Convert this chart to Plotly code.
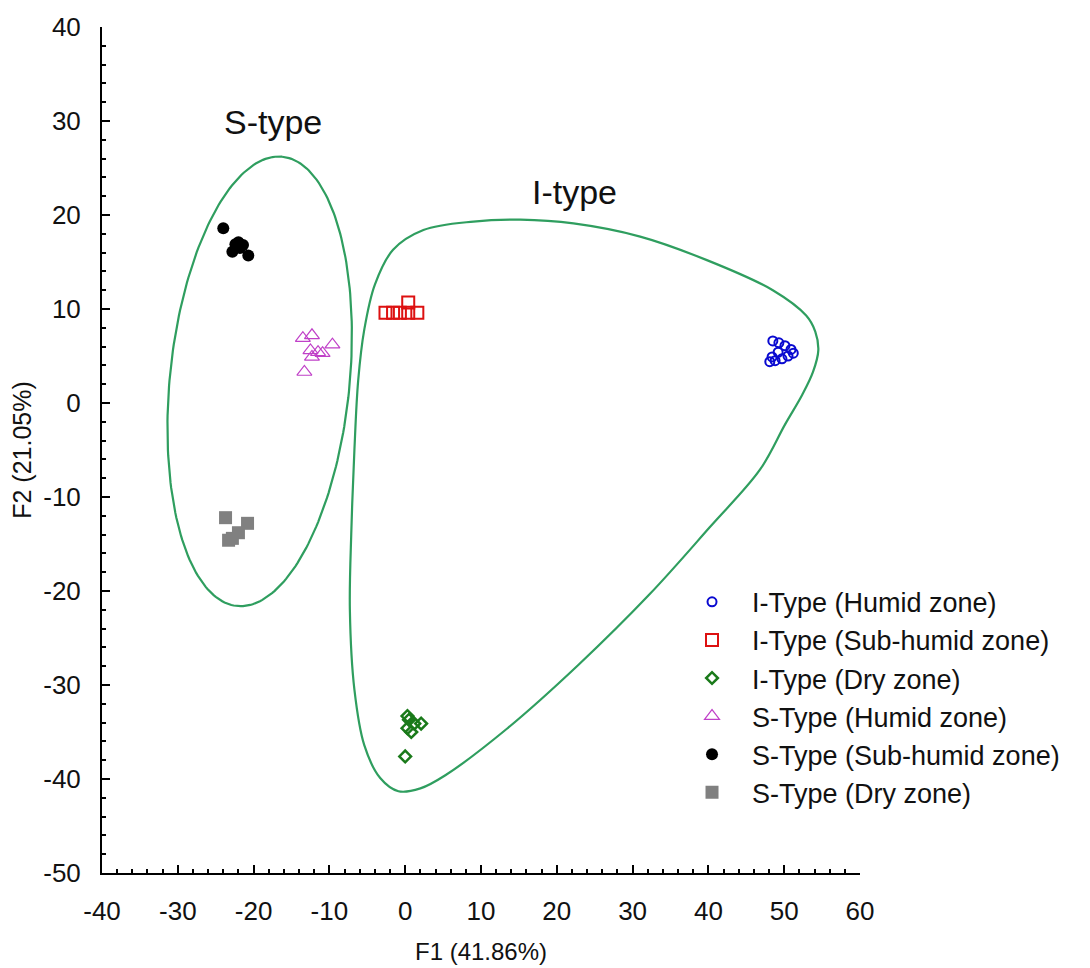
import numpy as np
import plotly.graph_objects as go

# ---------------- data ----------------
i_humid_x = [48.5, 49.3, 50.1, 50.9, 51.2, 50.5, 49.2, 48.4, 48.8, 49.7, 48.1]
i_humid_y = [6.6, 6.4, 6.1, 5.7, 5.3, 5.0, 5.4, 4.9, 4.5, 4.7, 4.4]

i_subhumid_x = [-2.6, -1.6, -0.7, 0.4, 1.6, 0.4]
i_subhumid_y = [9.6, 9.6, 9.6, 9.6, 9.6, 10.7]

i_dry_x = [0.3, 1.2, 2.1, 0.8, 0.3, 0.5, 0.0]
i_dry_y = [-33.3, -34.1, -34.1, -35.0, -34.6, -33.7, -37.6]

s_humid_x = [-13.5, -12.3, -12.5, -11.5, -10.9, -12.3, -9.6, -13.3]
s_humid_y = [6.9, 7.2, 5.6, 5.4, 5.3, 4.9, 6.2, 3.3]

s_subhumid_x = [-24.0, -22.0, -21.4, -22.8, -20.7, -21.8, -22.4]
s_subhumid_y = [18.6, 17.1, 16.8, 16.1, 15.7, 16.5, 16.9]

s_dry_x = [-23.7, -20.8, -22.8, -22.0, -23.3]
s_dry_y = [-12.2, -12.8, -14.4, -13.8, -14.6]

series_names = [
    "I-Type (Humid zone)",
    "I-Type (Sub-humid zone)",
    "I-Type (Dry zone)",
    "S-Type (Humid zone)",
    "S-Type (Sub-humid zone)",
    "S-Type (Dry zone)",
]

x_tick_vals = [-40, -30, -20, -10, 0, 10, 20, 30, 40, 50, 60]
x_tick_text = ["-40", "-30", "-20", "-10", "0", "10", "20", "30", "40", "50", "60"]
y_tick_vals = [-50, -40, -30, -20, -10, 0, 10, 20, 30, 40]
y_tick_text = ["-50", "-40", "-30", "-20", "-10", "0", "10", "20", "30", "40"]

# S-type grouping ellipse: centre, semi-axis vectors (data units)
s_ellipse_center = (-19.2, 2.3)
s_ellipse_major = (2.97, 23.9)
s_ellipse_minor = (11.8, -0.93)

# I-type grouping outline vertices (data units)
i_hull_x = [22.8, 32.3, 40.2, 46.8, 50.1, 52.4, 53.8, 54.5, 54.1, 52.9, 48.5, 39.8, 31.0,
            22.2, 15.2, 9.0, 2.4, -1.6, -4.0, -5.4, -6.2, -6.7, -7.1, -7.3, -6.7,
            -5.4, -3.3, -0.9, 2.0, 5.3, 13.5, 22.8]
i_hull_y = [-27.9, -20.3, -13.2, -7.1, -2.3, 0.9, 3.3, 5.6, 7.6, 9.3, 12.0, 15.2, 17.7,
            19.1, 19.5, 19.3, 18.4, 16.3, 12.6, 7.8, 2.4, -5.0, -13.5, -22.0, -30.5,
            -36.4, -39.9, -41.3, -41.0, -39.6, -34.6, -27.9]

x_title = "F1 (41.86%)"
y_title = "F2 (21.05%)"

# ---------------- figure ----------------
FONT = "Liberation Sans, Arial, sans-serif"
HULL_COLOR = "#2f9e5f"

fig = go.Figure()

t = np.linspace(0, 2 * np.pi, 240)
ex = s_ellipse_center[0] + s_ellipse_major[0] * np.cos(t) + s_ellipse_minor[0] * np.sin(t)
ey = s_ellipse_center[1] + s_ellipse_major[1] * np.cos(t) + s_ellipse_minor[1] * np.sin(t)
fig.add_trace(go.Scatter(x=ex, y=ey, mode="lines", line=dict(color=HULL_COLOR, width=2.2),
                         showlegend=False, hoverinfo="skip"))
fig.add_trace(go.Scatter(x=i_hull_x, y=i_hull_y, mode="lines",
                         line=dict(color=HULL_COLOR, width=2.2, shape="spline", smoothing=1.0),
                         showlegend=False, hoverinfo="skip"))

styles = [
    dict(symbol="circle-open", size=9, color="#0a0ad0", line=dict(width=2, color="#0a0ad0")),
    dict(symbol="square-open", size=12, color="#dd1111", line=dict(width=2, color="#dd1111")),
    dict(symbol="diamond-open", size=9, color="#1a7a1a", line=dict(width=2.5, color="#1a7a1a")),
    dict(symbol="triangle-up-open", size=13, color="#c040c8", line=dict(width=1.2, color="#c040c8")),
    dict(symbol="circle", size=12, color="#000000", line=dict(width=0)),
    dict(symbol="square", size=13, color="#808080", line=dict(width=0)),
]
xs = [i_humid_x, i_subhumid_x, i_dry_x, s_humid_x, s_subhumid_x, s_dry_x]
ys = [i_humid_y, i_subhumid_y, i_dry_y, s_humid_y, s_subhumid_y, s_dry_y]

for name, x, y, st in zip(series_names, xs, ys, styles):
    fig.add_trace(go.Scatter(x=x, y=y, mode="markers", name=name, marker=st))

fig.add_annotation(x=-17.5, y=29.9, text="S-type", showarrow=False,
                   font=dict(family=FONT, size=34, color="#111"))
fig.add_annotation(x=22.4, y=22.5, text="I-type", showarrow=False,
                   font=dict(family=FONT, size=34, color="#111"))

axis_common = dict(
    showgrid=False, zeroline=False, showline=True, linecolor="black", linewidth=2,
    ticks="inside", ticklen=8, tickwidth=2, tickcolor="black",
    tickfont=dict(family=FONT, size=26, color="#111"),
    minor=dict(ticks="inside", ticklen=4, tickwidth=1.5, tickcolor="black", dtick=2, showgrid=False),
    mirror=False, tickmode="array", automargin=False,
)

fig.update_layout(
    width=1090, height=968,
    margin=dict(l=94, r=238, t=19, b=103),
    paper_bgcolor="white", plot_bgcolor="white",
    font=dict(family=FONT, color="#111"),
    xaxis=dict(range=[-40, 60], tickvals=x_tick_vals, ticktext=x_tick_text, ticklabelstandoff=14,
               title=dict(text=x_title, font=dict(family=FONT, size=24), standoff=18),
               **axis_common),
    yaxis=dict(range=[-50, 40], tickvals=y_tick_vals, ticktext=y_tick_text, ticklabelstandoff=14,
               title=dict(text=y_title, font=dict(family=FONT, size=25), standoff=12),
               **axis_common),
    legend=dict(x=0.752, y=0.349, xanchor="left", yanchor="top",
                bgcolor="rgba(0,0,0,0)", font=dict(family=FONT, size=27, color="#111"),
                tracegroupgap=0, itemsizing="trace", itemwidth=70),
    showlegend=True,
)

fig.write_html("out.html")
